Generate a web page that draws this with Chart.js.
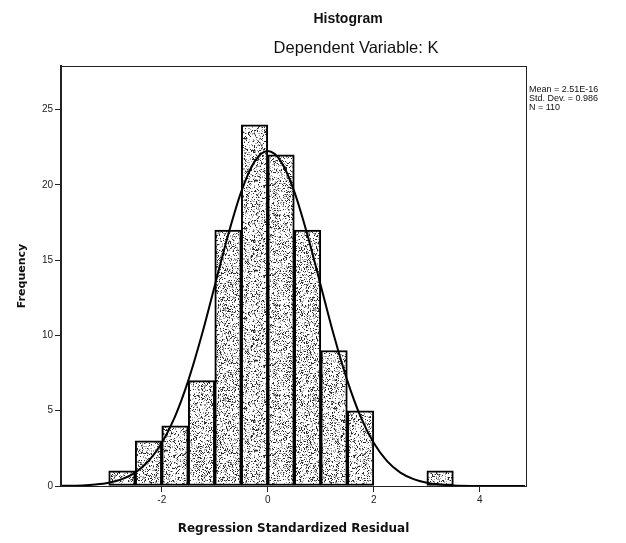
<!DOCTYPE html>
<html>
<head>
<meta charset="utf-8">
<script src="https://cdn.jsdelivr.net/npm/chart.js@4.4.1/dist/chart.umd.min.js"></script>
<style>
  body { margin: 0; background: #fff; }
  #wrap { width: 626px; height: 543px; }
</style>
</head>
<body>
<div id="wrap"><canvas id="chart" width="626" height="543"></canvas></div>
<script>
// histogram bins (start of each 0.5 wide bin) and counts
const binStarts = [-3, -2.5, -2, -1.5, -1, -0.5, 0, 0.5, 1, 1.5, 2, 2.5, 3];
const frequencies = [1, 3, 4, 7, 17, 24, 22, 17, 9, 5, 0, 0, 1];
const binWidth = 0.5;

// normal curve
const curveX = [-3.9, -3.5, -3.25, -3, -2.75, -2.5, -2.25, -2, -1.75, -1.5, -1.25, -1, -0.75, -0.5, -0.25, 0,
                0.25, 0.5, 0.75, 1, 1.25, 1.5, 1.75, 2, 2.25, 2.5, 2.75, 3, 3.25, 3.5, 4, 4.5, 4.85];
const curveY = [0.01, 0.04, 0.1, 0.22, 0.46, 0.89, 1.65, 2.85, 4.61, 7.0, 9.96, 13.31, 16.66, 19.56, 21.55, 22.25,
                21.55, 19.56, 16.66, 13.31, 9.96, 7.0, 4.61, 2.85, 1.65, 0.89, 0.46, 0.22, 0.1, 0.04, 0.005, 0, 0];

const xTicks = [-2, 0, 2, 4];
const yTicks = [0, 5, 10, 15, 20, 25];
const titleText = 'Histogram';
const subtitleText = 'Dependent Variable: K';
const statsLines = ['Mean = 2.51E-16', 'Std. Dev. = 0.986', 'N = 110'];

// stipple fill like the scanned bars (fixed seed so it is the same every time)
function makeStipple() {
    const c = document.createElement('canvas');
    c.width = 90; c.height = 90;
    const g = c.getContext('2d');
    g.fillStyle = '#ffffff';
    g.fillRect(0, 0, 90, 90);
    let s = 987654;
    const rnd = () => { s = (s * 1103515245 + 12345) % 2147483648; return s / 2147483648; };
    for (let y = 0; y < 90; y++) {
        for (let x = 0; x < 90; x++) {
            const r = rnd();
            if (r < 0.14) { g.fillStyle = '#2a2a2a'; g.fillRect(x, y, 1, 1); }
            else if (r < 0.30) { g.fillStyle = '#a0a0a0'; g.fillRect(x, y, 1, 1); }
        }
    }
    return document.getElementById('chart').getContext('2d').createPattern(c, 'repeat');
}

const barPoints = binStarts.map((b, i) => ({ x: b + binWidth / 2, y: frequencies[i] }));
const curvePoints = curveX.map((x, i) => ({ x: x, y: curveY[i] }));

const framePlugin = {
    id: 'frame',
    afterDraw(chart) {
        const ctx = chart.ctx;
        const a = chart.chartArea;
        ctx.save();
        ctx.strokeStyle = '#222';
        ctx.lineWidth = 1;
        ctx.strokeRect(a.left + 0.5, a.top + 0.5, a.right - a.left, a.bottom - a.top);

        ctx.fillStyle = '#111';
        ctx.textAlign = 'center';
        ctx.textBaseline = 'middle';
        ctx.font = 'bold 14px "Liberation Sans", Arial, sans-serif';
        ctx.fillText(titleText, 348, 19);
        ctx.font = '16.5px "Liberation Sans", Arial, sans-serif';
        ctx.fillText(subtitleText, 356, 48);

        ctx.textAlign = 'left';
        ctx.font = '9px "Liberation Sans", Arial, sans-serif';
        statsLines.forEach((t, i) => ctx.fillText(t, a.right + 3, 90 + i * 9));
        ctx.restore();
    }
};

new Chart(document.getElementById('chart'), {
    data: {
        datasets: [
            {
                type: 'line',
                data: curvePoints,
                borderColor: '#000',
                borderWidth: 2,
                pointRadius: 0,
                cubicInterpolationMode: 'monotone',
                fill: false,
                order: 0
            },
            {
                type: 'bar',
                data: barPoints,
                backgroundColor: makeStipple(),
                borderColor: '#000',
                borderWidth: 2,
                borderSkipped: false,
                barPercentage: 1,
                categoryPercentage: 1,
                order: 1
            }
        ]
    },
    options: {
        responsive: false,
        animation: false,
        layout: { padding: { left: 0, right: 100, top: 66, bottom: 0 } },
        plugins: { legend: { display: false }, tooltip: { enabled: false } },
        scales: {
            x: {
                type: 'linear',
                offset: false,
                min: -3.9,
                max: 4.87,
                afterBuildTicks: s => { s.ticks = xTicks.map(v => ({ value: v })); },
                afterFit: s => { s.height = 57; },
                grid: { offset: false, drawOnChartArea: false, drawTicks: true, tickLength: 6, color: '#222' },
                border: { display: true, color: '#222', width: 1 },
                ticks: { color: '#222', font: { family: '"Liberation Sans", Arial, sans-serif', size: 10 }, padding: 2 },
                title: {
                    display: true,
                    text: 'Regression Standardized Residual',
                    color: '#111',
                    font: { family: '"DejaVu Sans", Verdana, sans-serif', size: 12, weight: 'bold' },
                    padding: { top: 0, bottom: 7 }
                }
            },
            y: {
                min: 0,
                max: 27.9,
                afterBuildTicks: s => { s.ticks = yTicks.map(v => ({ value: v })); },
                afterFit: s => { s.width = 61; },
                grid: { drawOnChartArea: false, drawTicks: true, tickLength: 6, color: '#222' },
                border: { display: true, color: '#222', width: 2 },
                ticks: { color: '#222', font: { family: '"Liberation Sans", Arial, sans-serif', size: 10 }, padding: 2 },
                title: {
                    display: true,
                    text: 'Frequency',
                    color: '#111',
                    font: { family: '"DejaVu Sans", Verdana, sans-serif', size: 11, weight: 'bold' },
                    padding: { top: 16, bottom: 0 }
                }
            }
        }
    },
    plugins: [framePlugin]
});
</script>
</body>
</html>
